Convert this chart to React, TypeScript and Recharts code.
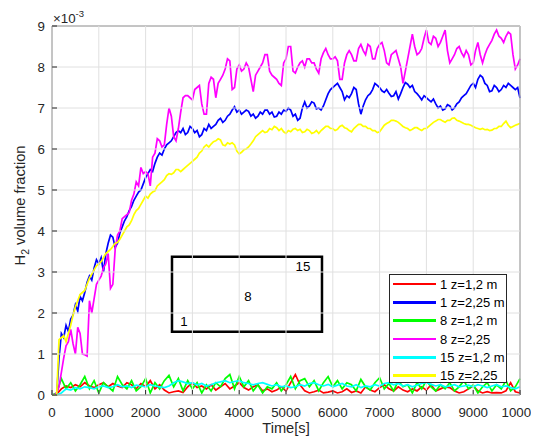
import React from "react";
import {
  LineChart,
  Line,
  XAxis,
  YAxis,
  ReferenceArea,
  ReferenceDot,
} from "recharts";

const AXIS = "#262626";
const GRID = "#e0e0e0";
const FONT = "'Liberation Sans', Arial, Helvetica, sans-serif";
const PLOT_W = 468;
const PLOT_H = 369;

// sampling: upper (z=2,25) signals every 50 s, lower (z=1,2) every 100 s
const timesFine = Array.from({ length: 201 }, (_, i) => i * 50);
const timesCoarse = Array.from({ length: 101 }, (_, i) => i * 100);

const X_TICKS = [0, 1000, 2000, 3000, 4000, 5000, 6000, 7000, 8000, 9000, 10000];
const Y_TICKS = [0, 1, 2, 3, 4, 5, 6, 7, 8, 9];

// values in units of 1e-3
const red1_12 = [
  0, 0.02, 0.15, 0.22, 0.18, 0.25, 0.2, 0.3, 0.22, 0.18, 0.25,
  0.3, 0.2, 0.28, 0.22, 0.18, 0.3, 0.25, 0.15, 0.28, 0.2,
  0.35, 0.15, 0.25, 0.12, 0.05, 0.08, 0.1, 0.06, 0.2, 0.3,
  0.18, 0.22, 0.15, 0.25, 0.12, 0.2, 0.28, 0.15, 0.22, 0.3,
  0.18, 0.12, 0.2, 0.25, 0.1, 0.15, 0.08, 0.12, 0.2, 0.1,
  0.3, 0.5, 0.25, 0.1, 0.05, 0.08, 0.12, 0.05, 0.07, 0.1,
  0.05, 0.08, 0.15, 0.06, 0.1, 0.05, 0.2, 0.12, 0.08, 0.18,
  0.25, 0.15, 0.1, 0.2, 0.12, 0.08, 0.15, 0.1, 0.2, 0.12,
  0.25, 0.1, 0.15, 0.2, 0.18, 0.1, 0.05, 0.08, 0.15, 0.22,
  0.1, 0.05, 0.08, 0.05, 0.06, 0.05, 0.1, 0.3, 0.08, 0.05,
];

const blue1_225 = [
  0, 0, 0, 0.9, 1.5, 1.4, 1.7, 1.55, 1.85, 1.95, 2.2, 2.05, 2.4, 2.3, 2.5, 2.75, 2.9, 2.8, 3.1, 3.3,
  3.2, 3.35, 3.0, 3.45, 3.7, 3.9, 3.85, 3.6, 3.7, 3.95, 4.1, 4.25, 4.35, 4.5, 4.6, 4.75, 4.85, 4.95, 5.0, 5.15,
  5.3, 5.4, 5.5, 5.45, 5.65, 5.8, 5.9, 5.85, 6.0, 6.1, 6.15, 6.2, 6.3, 6.4, 6.45, 6.4, 6.5, 6.35, 6.4, 6.55,
  6.5, 6.4, 6.45, 6.3, 6.35, 6.5, 6.45, 6.6, 6.5, 6.55, 6.6, 6.7, 6.75, 6.65, 6.7, 6.8, 6.85, 6.95, 7.03, 6.9,
  6.95, 6.85, 6.9, 6.95, 6.92, 6.8, 6.85, 6.75, 6.8, 6.9, 6.85, 6.95, 6.95, 6.85, 6.9, 6.78, 6.8, 6.9, 6.85, 6.95,
  6.92, 7.0, 6.95, 6.8, 6.85, 6.7, 6.75, 7.0, 7.15, 7.0, 7.05, 7.15, 7.12, 6.98, 7.0, 6.95, 7.05, 7.2, 7.35, 7.45,
  7.5, 7.55, 7.6, 7.5, 7.4, 7.2, 7.3, 7.25, 7.35, 7.5, 7.45, 7.1, 6.85, 7.05, 7.2, 7.3, 7.35, 7.45, 7.6, 7.55,
  7.5, 7.42, 7.38, 7.45, 7.36, 7.28, 7.3, 7.4, 7.22, 7.35, 7.5, 7.62, 7.58, 7.5, 7.55, 7.4, 7.35, 7.28, 7.2, 7.3,
  7.25, 7.2, 7.15, 7.22, 7.1, 7.0, 7.05, 6.95, 6.98, 7.08, 7.05, 6.95, 7.0, 7.1, 7.15, 7.25, 7.3, 7.35, 7.45, 7.55,
  7.6, 7.5, 7.7, 7.8, 7.75, 7.6, 7.55, 7.4, 7.42, 7.55, 7.5, 7.4, 7.45, 7.55, 7.5, 7.6, 7.55, 7.5, 7.45, 7.5,
  7.24,
];

const green8_12 = [
  0, 0.05, 0.4, 0.15, 0.3, 0.1, 0.25, 0.45, 0.15, 0.35, 0.05,
  0.3, 0.2, 0.1, 0.45, 0.25, 0.15, 0.35, 0.1, 0.2, 0.4,
  0.05, 0.3, 0.15, 0.35, 0.48, 0.2, 0.4, 0.1, 0.35, 0.15,
  0.3, 0.05, 0.25, 0.1, 0.3, 0.2, 0.4, 0.5, 0.15, 0.45,
  0.2, 0.35, 0.1, 0.25, 0.05, 0.2, 0.15, 0.3, 0.1, 0.25,
  0.45, 0.15, 0.35, 0.4, 0.2, 0.35, 0.1, 0.3, 0.45, 0.2,
  0.35, 0.15, 0.3, 0.25, 0.1, 0.38, 0.2, 0.12, 0.3, 0.42,
  0.15, 0.28, 0.1, 0.35, 0.2, 0.25, 0.05, 0.3, 0.15, 0.35,
  0.2, 0.1, 0.25, 0.15, 0.3, 0.1, 0.2, 0.35, 0.15, 0.25,
  0.05, 0.2, 0.3, 0.1, 0.25, 0.15, 0.35, 0.1, 0.2, 0.4,
];

const magenta8_225 = [
  0, 0, 0.05, 0.2, 0.55, 0.9, 1.2, 1.3, 1.6, 1.25, 1.0, 1.65, 1.5, 1.0, 0.98, 0.95, 2.3, 2.0, 2.35, 2.7,
  2.8, 2.9, 3.1, 3.2, 3.45, 2.6, 2.7, 3.55, 3.9, 4.0, 4.3, 4.35, 4.4, 4.45, 4.75, 4.9, 5.2, 5.1, 5.55, 5.4,
  5.45, 5.4, 5.1, 5.8, 5.9, 6.25, 6.2, 6.05, 6.1, 6.6, 7.0, 6.8, 6.3, 6.2, 6.5, 6.9, 7.25, 7.3, 7.3, 7.25,
  7.2, 7.45, 7.5, 7.55, 7.1, 6.85, 6.85, 7.6, 7.75, 7.7, 7.25, 7.6, 7.7, 7.8, 7.95, 8.2, 8.15, 7.45, 7.5, 7.95,
  8.05, 7.9, 7.95, 8.1, 8.0, 7.7, 7.4, 7.8, 7.9, 8.0, 8.1, 8.3, 8.3, 7.9, 7.8, 7.75, 7.7, 7.6, 7.55, 8.1,
  8.2, 8.5, 8.5, 7.9, 7.85, 8.0, 8.1, 8.15, 8.0, 8.2, 8.2, 8.1, 8.1, 7.95, 7.85, 8.2, 8.35, 8.45, 8.3, 8.2,
  8.2, 8.25, 8.15, 7.7, 7.7, 8.1, 8.3, 8.4, 8.3, 8.15, 8.15, 8.45, 8.55, 8.4, 8.3, 8.55, 8.5, 8.2, 8.2, 8.45,
  8.55, 8.6, 8.4, 8.1, 8.05, 8.3, 8.35, 8.4, 8.2, 8.0, 7.6, 7.9, 8.2, 8.5, 8.8, 8.5, 8.3, 8.35, 8.45, 8.7,
  8.9, 8.6, 8.55, 8.75, 8.7, 8.5, 8.6, 8.75, 8.9, 8.4, 8.1, 8.2, 8.3, 8.45, 8.5, 8.35, 8.25, 8.4, 8.3, 8.05,
  8.1, 8.4, 8.6, 8.3, 8.1, 8.3, 8.45, 8.55, 8.65, 8.8, 8.9, 8.75, 8.7, 8.6, 8.75, 8.85, 8.8, 8.3, 7.95, 8.05,
  8.2,
];

const cyan15_12 = [
  0, 0, 0.05, 0.15, 0.12, 0.18, 0.15, 0.2, 0.18, 0.15, 0.2,
  0.22, 0.18, 0.2, 0.25, 0.2, 0.22, 0.18, 0.24, 0.22, 0.2,
  0.25, 0.22, 0.2, 0.18, 0.22, 0.3, 0.35, 0.32, 0.28, 0.3,
  0.25, 0.28, 0.22, 0.25, 0.3, 0.32, 0.35, 0.3, 0.33, 0.35,
  0.3, 0.28, 0.25, 0.28, 0.3, 0.26, 0.22, 0.25, 0.2, 0.22,
  0.18, 0.2, 0.25, 0.22, 0.28, 0.3, 0.25, 0.22, 0.26, 0.2,
  0.24, 0.28, 0.22, 0.2, 0.25, 0.18, 0.22, 0.2, 0.25, 0.22,
  0.28, 0.3, 0.25, 0.28, 0.22, 0.25, 0.2, 0.24, 0.28, 0.3,
  0.26, 0.22, 0.25, 0.2, 0.22, 0.25, 0.2, 0.22, 0.24, 0.2,
  0.25, 0.22, 0.18, 0.22, 0.25, 0.2, 0.22, 0.18, 0.15, 0.2,
];

const yellow15_225 = [
  0, 0, 0, 1.35, 1.4, 1.45, 1.3, 1.5, 1.7, 1.95, 2.15, 2.3, 2.45, 2.5, 2.55, 2.7, 2.85, 2.95, 3.05, 3.15,
  3.2, 3.25, 3.35, 3.45, 3.5, 3.55, 3.62, 3.7, 3.72, 3.8, 3.9, 4.0, 4.1, 4.15, 4.25, 4.4, 4.5, 4.55, 4.65, 4.75,
  4.85, 4.8, 4.9, 4.95, 4.98, 5.1, 5.15, 5.2, 5.25, 5.35, 5.4, 5.38, 5.42, 5.5, 5.5, 5.45, 5.5, 5.55, 5.6, 5.65,
  5.7, 5.75, 5.8, 5.9, 5.95, 6.05, 6.1, 6.05, 6.12, 6.18, 6.2, 6.25, 6.22, 6.1, 6.08, 6.15, 6.12, 6.15, 6.1, 5.95,
  5.88, 5.92, 5.98, 6.0, 6.05, 6.12, 6.2, 6.3, 6.35, 6.4, 6.45, 6.4, 6.42, 6.5, 6.47, 6.55, 6.52, 6.45, 6.5, 6.42,
  6.38, 6.45, 6.42, 6.48, 6.5, 6.45, 6.48, 6.4, 6.42, 6.48, 6.45, 6.38, 6.4, 6.45, 6.38, 6.45, 6.5, 6.55, 6.55, 6.5,
  6.5, 6.45, 6.48, 6.55, 6.58, 6.52, 6.5, 6.45, 6.42, 6.5, 6.55, 6.6, 6.6, 6.55, 6.55, 6.5, 6.5, 6.45, 6.45, 6.4,
  6.42, 6.5, 6.58, 6.62, 6.65, 6.7, 6.7, 6.68, 6.65, 6.6, 6.55, 6.52, 6.5, 6.45, 6.48, 6.52, 6.52, 6.48, 6.45, 6.5,
  6.5, 6.55, 6.6, 6.65, 6.68, 6.72, 6.72, 6.68, 6.65, 6.7, 6.7, 6.75, 6.76, 6.7, 6.68, 6.65, 6.62, 6.6, 6.6, 6.58,
  6.55, 6.52, 6.5, 6.48, 6.5, 6.47, 6.48, 6.45, 6.46, 6.5, 6.5, 6.55, 6.55, 6.62, 6.68, 6.58, 6.52, 6.55, 6.58, 6.6,
  6.63,
];

const SERIES = [
  { key: "s1a", name: "1 z=1,2 m", color: "#ff0000", times: timesCoarse, values: red1_12 },
  { key: "s1b", name: "1 z=2,25 m", color: "#0000ff", times: timesFine, values: blue1_225 },
  { key: "s8a", name: "8 z=1,2 m", color: "#00ff00", times: timesCoarse, values: green8_12 },
  { key: "s8b", name: "8 z=2,25", color: "#ff00ff", times: timesFine, values: magenta8_225 },
  { key: "s15a", name: "15 z=1,2 m", color: "#00ffff", times: timesCoarse, values: cyan15_12 },
  { key: "s15b", name: "15 z=2,25", color: "#ffff00", times: timesFine, values: yellow15_225 },
];

// sensor box drawn in the plot, and its labels
const SENSOR_BOX = { x1: 2564, x2: 5769, y1: 1.54, y2: 3.37 };
const SENSOR_LABELS = [
  { text: "1", x: 2821, y: 1.8 },
  { text: "8", x: 4188, y: 2.41 },
  { text: "15", x: 5363, y: 3.15 },
];

const seriesData = SERIES.map((s) => s.values.map((v, i) => ({ t: s.times[i], v })));

// grid line + inward tick + label, drawn per tick
function BottomTick(props: any) {
  const { x, y, payload } = props;
  return (
    <g>
      <line x1={x} x2={x} y1={y} y2={y - PLOT_H} stroke={GRID} strokeWidth={1} />
      <line x1={x} x2={x} y1={y} y2={y - 5} stroke={AXIS} strokeWidth={1} />
      <text x={x} y={y + 22} textAnchor="middle" fill={AXIS} fontSize={13.3} fontFamily={FONT}>
        {payload.value}
      </text>
    </g>
  );
}

function TopTick(props: any) {
  const { x, y } = props;
  return <line x1={x} x2={x} y1={y} y2={y + 5} stroke={AXIS} strokeWidth={1} />;
}

function LeftTick(props: any) {
  const { x, y, payload } = props;
  return (
    <g>
      <line x1={x} x2={x + PLOT_W} y1={y} y2={y} stroke={GRID} strokeWidth={1} />
      <line x1={x} x2={x + 5} y1={y} y2={y} stroke={AXIS} strokeWidth={1} />
      <text x={x - 7} y={y + 4.7} textAnchor="end" fill={AXIS} fontSize={13.3} fontFamily={FONT}>
        {payload.value}
      </text>
    </g>
  );
}

function RightTick(props: any) {
  const { x, y } = props;
  return <line x1={x} x2={x - 5} y1={y} y2={y} stroke={AXIS} strokeWidth={1} />;
}

function YTitle(props: any) {
  const vb = props.viewBox || { x: 43, y: 18, width: 1, height: 369 };
  const cx = vb.x + vb.width - 27;
  const cy = vb.y + vb.height / 2 - 5;
  return (
    <text
      x={cx}
      y={cy}
      transform={`rotate(-90, ${cx}, ${cy})`}
      textAnchor="middle"
      fill={AXIS}
      fontSize={14.67}
      fontFamily={FONT}
    >
      H<tspan dy={4} fontSize={10.5}>2</tspan>
      <tspan dy={-4}> volume fraction</tspan>
    </text>
  );
}

function XTitle(props: any) {
  const vb = props.viewBox || { x: 44, y: 387, width: 468 };
  return (
    <text
      x={vb.x + vb.width / 2}
      y={vb.y + 38}
      textAnchor="middle"
      fill={AXIS}
      fontSize={14.67}
      fontFamily={FONT}
    >
      Time[s]
    </text>
  );
}

function ScaleNote(props: any) {
  const vb = props.viewBox || { x: 44, y: 17, height: 1 };
  const top = vb.y + (vb.height || 0);
  return (
    <text x={vb.x + 1} y={top - 3.5} fill={AXIS} fontSize={13.3} fontFamily={FONT}>
      ×10<tspan dy={-5.5} fontSize={9.5}>-3</tspan>
    </text>
  );
}

function LegendBox() {
  return (
    <div
      style={{
        position: "absolute",
        left: 381,
        top: 266,
        width: 118,
        height: 109,
        boxSizing: "border-box",
        border: `1px solid ${AXIS}`,
        background: "#fff",
        fontFamily: FONT,
        fontSize: 13,
        lineHeight: "15px",
        color: "#000",
      }}
    >
      {SERIES.map((s) => (
        <div
          key={s.key}
          style={{ display: "flex", alignItems: "center", height: 18.3, whiteSpace: "nowrap" }}
        >
          <span
            style={{
              display: "inline-block",
              width: 43,
              height: 2.5,
              marginLeft: 3,
              marginRight: 4,
              background: s.color,
            }}
          />
          <span>{s.name}</span>
        </div>
      ))}
    </div>
  );
}

export default function App() {
  return (
    <div style={{ position: "relative", width: 531, height: 428, background: "#fff" }}>
      <LineChart
        width={531}
        height={428}
        margin={{ top: 17, right: 18, bottom: 40, left: 43 }}
        style={{ overflow: "visible" }}
      >
        {SERIES.map((s, i) => (
          <Line
            key={s.key}
            data={seriesData[i]}
            dataKey="v"
            name={s.name}
            stroke={s.color}
            strokeWidth={1.7}
            dot={false}
            type="linear"
            isAnimationActive={false}
          />
        ))}
        <ReferenceArea
          x1={SENSOR_BOX.x1}
          x2={SENSOR_BOX.x2}
          y1={SENSOR_BOX.y1}
          y2={SENSOR_BOX.y2}
          fill="none"
          fillOpacity={0}
          stroke="#000"
          strokeWidth={2.5}
        />
        {SENSOR_LABELS.map((l) => (
          <ReferenceDot
            key={l.text}
            x={l.x}
            y={l.y}
            r={0}
            fill="none"
            stroke="none"
            label={{ value: l.text, position: "center", fill: "#000", fontSize: 13.3, fontFamily: FONT }}
          />
        ))}
        <XAxis
          dataKey="t"
          type="number"
          domain={[0, 10000]}
          allowDuplicatedCategory={false}
          ticks={X_TICKS}
          interval={0}
          height={1}
          tickSize={0}
          tickMargin={0}
          tickLine={false}
          axisLine={{ stroke: AXIS, strokeWidth: 0.8 }}
          tick={<BottomTick />}
          label={<XTitle />}
        />
        <XAxis
          xAxisId="top"
          orientation="top"
          type="number"
          domain={[0, 10000]}
          ticks={X_TICKS}
          interval={0}
          height={1}
          tickSize={0}
          tickMargin={0}
          tickLine={false}
          axisLine={{ stroke: AXIS, strokeWidth: 0.8 }}
          tick={<TopTick />}
          label={<ScaleNote />}
        />
        <YAxis
          type="number"
          domain={[0, 9]}
          ticks={Y_TICKS}
          interval={0}
          width={1}
          tickSize={0}
          tickMargin={0}
          tickLine={false}
          axisLine={{ stroke: AXIS, strokeWidth: 0.8 }}
          tick={<LeftTick />}
          label={<YTitle />}
        />
        <YAxis
          yAxisId="right"
          orientation="right"
          type="number"
          domain={[0, 9]}
          ticks={Y_TICKS}
          interval={0}
          width={1}
          tickSize={0}
          tickMargin={0}
          tickLine={false}
          axisLine={{ stroke: AXIS, strokeWidth: 0.8 }}
          tick={<RightTick />}
        />
      </LineChart>
      <LegendBox />
    </div>
  );
}
